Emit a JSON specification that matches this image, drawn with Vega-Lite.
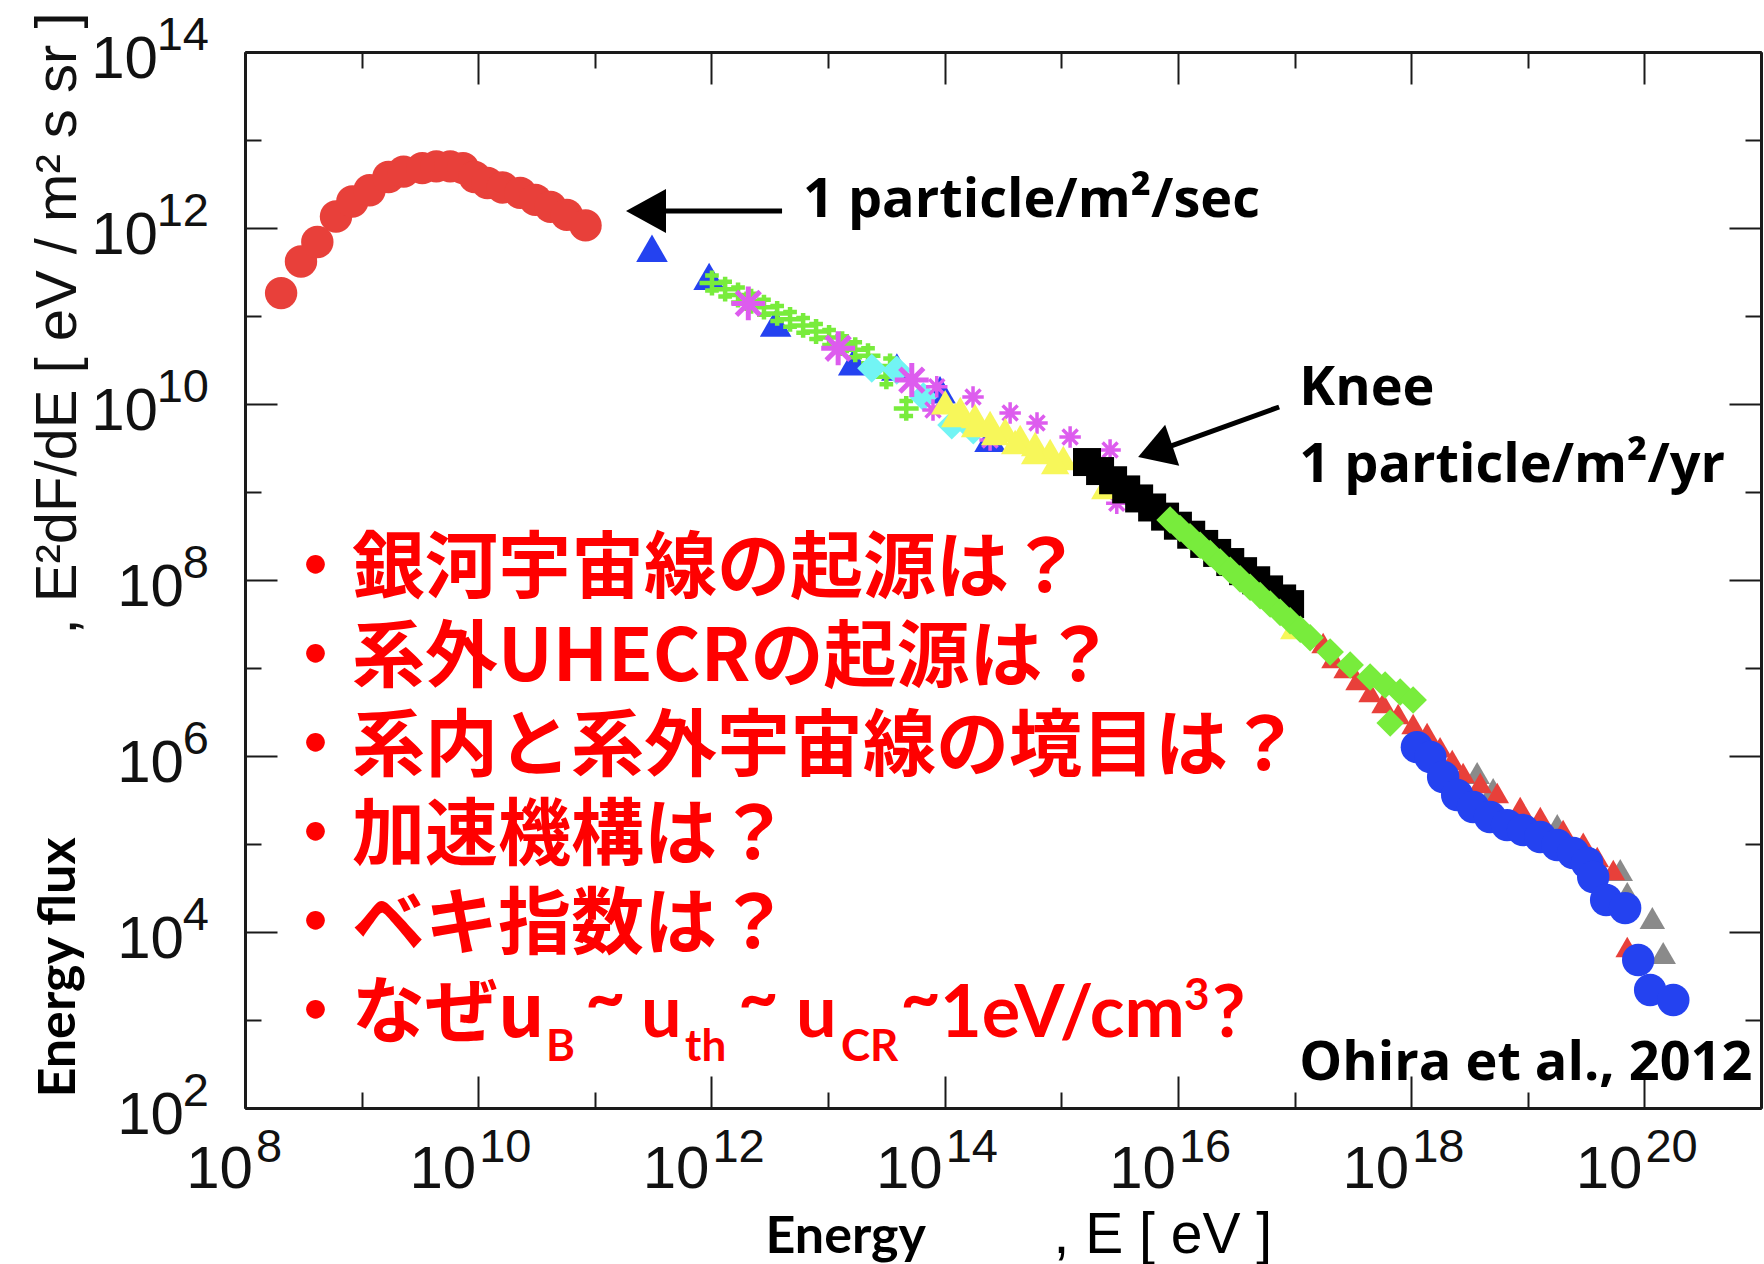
{
"$schema": "https://vega.github.io/schema/vega-lite/v6.json",
"width": 1516,
"height": 1056,
"autosize": {"type": "none"},
"padding": {"left": 245, "top": 52, "right": 3, "bottom": 156},
"background": "white",
"config": {"view": {"stroke": null}, "font": "Liberation Sans"},
"datasets": {
"redc": [{"E":2.04e8,"F":1.82e11},{"E":3.02e8,"F":4.17e11},{"E":4.17e8,"F":6.92e11},{"E":6.03e8,"F":1.35e12},{"E":8.32e8,"F":2.0e12},{"E":1.17e9,"F":2.69e12},{"E":1.7e9,"F":3.8e12},{"E":2.29e9,"F":4.37e12},{"E":3.31e9,"F":4.79e12},{"E":4.37e9,"F":5.01e12},{"E":5.75e9,"F":5.01e12},{"E":7.41e9,"F":4.79e12},{"E":9.33e9,"F":3.8e12},{"E":1.2e10,"F":3.24e12},{"E":1.62e10,"F":2.88e12},{"E":2.29e10,"F":2.51e12},{"E":3.09e10,"F":2.09e12},{"E":4.17e10,"F":1.74e12},{"E":5.75e10,"F":1.41e12},{"E":8.32e10,"F":1.07e12}],
"bluet": [{"E":3.09e11,"F":5.89e11},{"E":9.55e11,"F":2.82e11},{"E":3.55e12,"F":8.32e10},{"E":1.66e13,"F":3.02e10},{"E":3.89e13,"F":2.63e10},{"E":9.12e13,"F":1.45e10},{"E":2.45e14,"F":4.07e9}],
"greenx": [{"E":1.01e12,"F":2.37e11},{"E":1.31e12,"F":2.02e11},{"E":1.69e12,"F":1.73e11},{"E":2.19e12,"F":1.47e11},{"E":2.82e12,"F":1.26e11},{"E":3.66e12,"F":1.07e11},{"E":4.72e12,"F":9.16e10},{"E":6.11e12,"F":7.82e10},{"E":7.89e12,"F":6.67e10},{"E":1.02e13,"F":5.7e10},{"E":1.32e13,"F":4.85e10},{"E":1.71e13,"F":4.14e10},{"E":2.2e13,"F":3.54e10},{"E":3.16e13,"F":2.04e10},{"E":3.4e13,"F":2.7e10},{"E":4.68e13,"F":8.91e9}],
"magbig": [{"E":2.07e12,"F":1.39e11},{"E":1.22e13,"F":4.3e10},{"E":5.22e13,"F":1.87e10}],
"magsm": [{"E":8.55e13,"F":1.57e10},{"E":1.75e14,"F":1.2e10},{"E":3.64e14,"F":7.91e9},{"E":6.19e14,"F":6.08e9},{"E":1.19e15,"F":4.22e9},{"E":7.94e13,"F":8.55e9},{"E":2.45e14,"F":3.9e9},{"E":2.99e15,"F":7.45e8},{"E":2.62e15,"F":3.0e9}],
"cyan": [{"E":2.37e13,"F":2.55e10},{"E":3.88e13,"F":2.43e10},{"E":6.56e13,"F":1.21e10},{"E":1.15e14,"F":5.77e9},{"E":1.76e14,"F":5.07e9}],
"yellow": [{"E":1.01e14,"F":1.05e10},{"E":1.36e14,"F":8.77e9},{"E":1.82e14,"F":7.31e9},{"E":2.45e14,"F":6.08e9},{"E":3.3e14,"F":5.07e9},{"E":4.44e14,"F":4.22e9},{"E":5.96e14,"F":3.51e9},{"E":8.02e14,"F":2.92e9},{"E":1.04e15,"F":2.43e9},{"E":2.38e15,"F":1.14e9},{"E":9.93e16,"F":2.92e7},{"E":1.23e14,"F":7.5e9},{"E":1.82e14,"F":5.77e9},{"E":2.7e14,"F":4.68e9},{"E":4.02e14,"F":3.7e9},{"E":5.96e14,"F":2.85e9},{"E":8.85e14,"F":2.19e9}],
"black": [{"E":1.66e15,"F":2.19e9},{"E":2.15e15,"F":1.73e9},{"E":2.78e15,"F":1.36e9},{"E":3.6e15,"F":1.07e9},{"E":4.65e15,"F":8.45e8},{"E":6.01e15,"F":6.67e8},{"E":7.76e15,"F":5.25e8},{"E":1.0e16,"F":4.14e8},{"E":1.3e16,"F":3.27e8},{"E":1.68e16,"F":2.57e8},{"E":2.17e16,"F":2.03e8},{"E":2.81e16,"F":1.6e8},{"E":3.62e16,"F":1.26e8},{"E":4.69e16,"F":9.93e7},{"E":6.05e16,"F":7.82e7},{"E":7.83e16,"F":6.17e7},{"E":9.16e16,"F":5.32e7}],
"gray": [{"E":3.68e18,"F":6.41e5},{"E":5.05e18,"F":4.22e5},{"E":1.79e19,"F":1.64e5},{"E":6.21e19,"F":5.07e4},{"E":7.13e19,"F":2.77e4},{"E":1.17e20,"F":1.44e4},{"E":1.45e20,"F":5.77e3}],
"redt": [{"E":1.76e17,"F":1.92e7},{"E":2.14e17,"F":1.3e7},{"E":2.72e17,"F":1.0e7},{"E":3.44e17,"F":7.31e6},{"E":4.45e17,"F":5.33e6},{"E":5.75e17,"F":4.0e6},{"E":7.74e17,"F":3.0e6},{"E":1.04e18,"F":2.31e6},{"E":1.37e18,"F":1.82e6},{"E":1.77e18,"F":1.26e6},{"E":2.25e18,"F":9.02e5},{"E":2.79e18,"F":6.41e5},{"E":3.91e18,"F":4.93e5},{"E":5.47e18,"F":3.8e5},{"E":8.61e18,"F":2.63e5},{"E":1.28e19,"F":2.03e5},{"E":2.01e19,"F":1.44e5},{"E":2.99e19,"F":1.03e5},{"E":3.94e19,"F":7.11e4},{"E":5.41e19,"F":5.07e4},{"E":7.13e19,"F":6.76e3}],
"greend": [{"E":8.57e15,"F":4.81e8},{"E":1.04e16,"F":3.85e8},{"E":1.27e16,"F":3.1e8},{"E":1.55e16,"F":2.48e8},{"E":1.89e16,"F":2.0e8},{"E":2.3e16,"F":1.6e8},{"E":2.81e16,"F":1.29e8},{"E":3.41e16,"F":1.03e8},{"E":4.16e16,"F":8.28e7},{"E":5.07e16,"F":6.65e7},{"E":6.18e16,"F":5.33e7},{"E":7.52e16,"F":4.29e7},{"E":9.16e16,"F":3.44e7},{"E":1.12e17,"F":2.76e7},{"E":1.36e17,"F":2.21e7},{"E":2.02e17,"F":1.52e7},{"E":3.0e17,"F":1.08e7},{"E":4.45e17,"F":7.91e6},{"E":5.98e17,"F":6.41e6},{"E":8.05e17,"F":5.33e6},{"E":1.04e18,"F":4.33e6},{"E":6.61e17,"F":2.37e6}],
"bluec": [{"E":1.12e18,"F":1.26e6},{"E":1.46e18,"F":9.75e5},{"E":1.88e18,"F":5.77e5},{"E":2.48e18,"F":3.61e5},{"E":3.4e18,"F":2.63e5},{"E":4.75e18,"F":2.03e5},{"E":6.65e18,"F":1.64e5},{"E":9.12e18,"F":1.44e5},{"E":1.28e19,"F":1.2e5},{"E":1.79e19,"F":9.75e4},{"E":2.45e19,"F":7.91e4},{"E":3.23e19,"F":6.08e4},{"E":3.64e19,"F":4.22e4},{"E":4.7e19,"F":2.31e4},{"E":6.84e19,"F":1.87e4},{"E":8.85e19,"F":4.81e3},{"E":1.12e20,"F":2.19e3},{"E":1.77e20,"F":1.69e3}],
"arrows": [{"E":4.03e12,"F":1.56e12,"E2":2.97e11,"F2":1.56e12},{"E":7.38e16,"F":9.25e9,"E2":7.76e15,"F2":3.16e9}],
"tip1": [{"E":1.85e11,"F":1.56e12}],
"tip2": [{"E":4.56e15,"F":2.5e9}],
"notes": [{"E":6.1e12,"F":1.33e12,"t":"1 particle/m²/sec"},{"E":1.1e17,"F":9.75e9,"t":"Knee"},{"E":1.1e17,"F":1.315e9,"t":"1 particle/m²/yr"},{"E":1.1e17,"F":208,"t":"Ohira et al., 2012"}],
"qmain": [{"E":1.96e8,"F":7.31e7,"t":"・銀河宇宙線の起源は？"},{"E":1.96e8,"F":7.11e6,"t":"・系外UHECRの起源は？"},{"E":1.96e8,"F":6.93e5,"t":"・系内と系外宇宙線の境目は？"},{"E":1.96e8,"F":6.76e4,"t":"・加速機構は？"},{"E":1.96e8,"F":6.58e3,"t":"・ベキ指数は？"},{"E":1.96e8,"F":641,"t":"・なぜu"}],
"qlatin": [{"E":2.49e11,"F":641,"t":"u"},{"E":5.32e12,"F":641,"t":"u"},{"E":9.13e13,"F":641,"t":"1eV/cm"},{"E":1.97e16,"F":641,"t":"?"}],
"qtilde": [{"E":8.24e10,"F":949,"t":"~"},{"E":1.69e12,"F":949,"t":"~"},{"E":4.15e13,"F":949,"t":"~"}],
"qsmall": [{"E":3.82e10,"F":342,"t":"B"},{"E":5.94e11,"F":342,"t":"th"},{"E":1.29e13,"F":342,"t":"CR"},{"E":1.13e16,"F":1300,"t":"3"}],
"xlab": [{"E":1e8,"F":100,"e":"8"},{"E":1e10,"F":100,"e":"10"},{"E":1e12,"F":100,"e":"12"},{"E":1e14,"F":100,"e":"14"},{"E":1e16,"F":100,"e":"16"},{"E":1e18,"F":100,"e":"18"},{"E":1e20,"F":100,"e":"20"}],
"ylab": [{"E":1e8,"F":100,"e":"2"},{"E":1e8,"F":1e4,"e":"4"},{"E":1e8,"F":1e6,"e":"6"},{"E":1e8,"F":1e8,"e":"8"},{"E":1e8,"F":1e10,"e":"10"},{"E":1e8,"F":1e12,"e":"12"},{"E":1e8,"F":1e14,"e":"14"}]
},
"encoding": {
"x": {"field": "E", "type": "quantitative", "scale": {"type": "log", "domain": [1e8, 1e21], "nice": false}, "axis": null},
"y": {"field": "F", "type": "quantitative", "scale": {"type": "log", "domain": [100, 1e14], "nice": false}, "axis": null}
},
"layer": [
{"data": {"name": "redc"}, "mark": {"type": "point", "shape": "circle", "filled": true, "size": 1050, "color": "#E8403A", "opacity": 1}},
{"data": {"name": "bluet"}, "mark": {"type": "point", "shape": "triangle-up", "filled": true, "size": 1000, "color": "#2442F0", "opacity": 1},
 "encoding": {
  "x": {"field": "E", "type": "quantitative", "scale": {"type": "log", "domain": [1e8, 1e21], "nice": false},
   "axis": {"orient": "bottom", "values": [1e9,1e11,1e13,1e15,1e17,1e19], "labels": false, "grid": false, "tickSize": -16, "tickWidth": 2, "tickColor": "#1a1a1a", "domainColor": "#1a1a1a", "domainWidth": 3, "title": "Energy", "titleFont": "Lato", "titleFontSize": 52, "titleFontWeight": "bold", "titleColor": "#000000", "titleAlign": "left", "titleBaseline": "alphabetic", "titleX": 520, "titleY": 144, "titleAngle": 0}},
  "y": {"field": "F", "type": "quantitative", "scale": {"type": "log", "domain": [100, 1e14], "nice": false},
   "axis": {"orient": "left", "values": [1e3,1e5,1e7,1e9,1e11,1e13], "labels": false, "grid": false, "tickSize": -16, "tickWidth": 2, "tickColor": "#1a1a1a", "domainColor": "#1a1a1a", "domainWidth": 3, "title": "Energy flux", "titleFont": "Lato", "titleFontSize": 52, "titleFontWeight": "bold", "titleColor": "#000000", "titleAngle": -90, "titleAlign": "center", "titleBaseline": "alphabetic", "titleX": -171, "titleY": 915}}
 }},
{"data": {"name": "greenx"}, "mark": {"type": "point", "shape": "M-1,0L1,0M0,-1L0,1M-0.55,-0.6L0.55,-0.6M-0.55,0.6L0.55,0.6", "filled": false, "size": 620, "color": "#78EC3C", "strokeWidth": 4.5, "opacity": 1},
 "encoding": {
  "x": {"field": "E", "type": "quantitative", "scale": {"type": "log", "domain": [1e8, 1e21], "nice": false},
   "axis": {"orient": "bottom", "values": [1e8,1e10,1e12,1e14,1e16,1e18,1e20], "labels": false, "grid": false, "tickSize": -32, "tickWidth": 2, "tickColor": "#1a1a1a", "domainColor": "#1a1a1a", "domainWidth": 3, "title": ", E [ eV ]", "titleFont": "Liberation Sans", "titleFontSize": 57, "titleFontWeight": "normal", "titleColor": "#000000", "titleAlign": "left", "titleBaseline": "alphabetic", "titleX": 808, "titleY": 144, "titleAngle": 0}},
  "y": {"field": "F", "type": "quantitative", "scale": {"type": "log", "domain": [100, 1e14], "nice": false},
   "axis": {"orient": "left", "values": [100,1e4,1e6,1e8,1e10,1e12,1e14], "labels": false, "grid": false, "tickSize": -32, "tickWidth": 2, "tickColor": "#1a1a1a", "domainColor": "#1a1a1a", "domainWidth": 3, "title": ", E²dF/dE [ eV / m² s sr ]", "titleFont": "Liberation Sans", "titleFontSize": 58, "titleFontWeight": "normal", "titleColor": "#111111", "titleAngle": -90, "titleAlign": "center", "titleBaseline": "alphabetic", "titleX": -170, "titleY": 271}}
 }},
{"data": {"name": "cyan"}, "mark": {"type": "point", "shape": "diamond", "filled": true, "size": 850, "color": "#72F4F4", "opacity": 1},
 "encoding": {
  "x": {"field": "E", "type": "quantitative", "scale": {"type": "log", "domain": [1e8, 1e21], "nice": false},
   "axis": {"orient": "top", "values": [1e8,1e10,1e12,1e14,1e16,1e18,1e20], "labels": false, "grid": false, "tickSize": -32, "tickWidth": 2, "tickColor": "#1a1a1a", "domainColor": "#1a1a1a", "domainWidth": 3, "title": null}},
  "y": {"field": "F", "type": "quantitative", "scale": {"type": "log", "domain": [100, 1e14], "nice": false},
   "axis": {"orient": "right", "values": [100,1e4,1e6,1e8,1e10,1e12,1e14], "labels": false, "grid": false, "tickSize": -32, "tickWidth": 2, "tickColor": "#1a1a1a", "domainColor": "#1a1a1a", "domainWidth": 3, "title": null}}
 }},
{"data": {"name": "magbig"}, "mark": {"type": "point", "shape": "M-1,0L1,0M0,-1L0,1M-0.7,-0.7L0.7,0.7M-0.7,0.7L0.7,-0.7", "filled": false, "size": 1150, "color": "#DD5CEE", "strokeWidth": 5, "opacity": 1},
 "encoding": {
  "x": {"field": "E", "type": "quantitative", "scale": {"type": "log", "domain": [1e8, 1e21], "nice": false},
   "axis": {"orient": "top", "values": [1e9,1e11,1e13,1e15,1e17,1e19], "labels": false, "grid": false, "tickSize": -16, "tickWidth": 2, "tickColor": "#1a1a1a", "domainColor": "#1a1a1a", "domainWidth": 3, "title": null}},
  "y": {"field": "F", "type": "quantitative", "scale": {"type": "log", "domain": [100, 1e14], "nice": false},
   "axis": {"orient": "right", "values": [1e3,1e5,1e7,1e9,1e11,1e13], "labels": false, "grid": false, "tickSize": -16, "tickWidth": 2, "tickColor": "#1a1a1a", "domainColor": "#1a1a1a", "domainWidth": 3, "title": null}}
 }},
{"data": {"name": "magsm"}, "mark": {"type": "point", "shape": "M-1,0L1,0M0,-1L0,1M-0.7,-0.7L0.7,0.7M-0.7,0.7L0.7,-0.7", "filled": false, "size": 460, "color": "#DD5CEE", "strokeWidth": 3.5, "opacity": 1}},
{"data": {"name": "yellow"}, "mark": {"type": "point", "shape": "triangle-up", "filled": true, "size": 800, "color": "#F7F75A", "opacity": 1}},
{"data": {"name": "black"}, "mark": {"type": "point", "shape": "square", "filled": true, "size": 784, "color": "#000000", "opacity": 1}},
{"data": {"name": "gray"}, "mark": {"type": "point", "shape": "triangle-up", "filled": true, "size": 650, "color": "#8A8A8A", "opacity": 1}},
{"data": {"name": "redt"}, "mark": {"type": "point", "shape": "triangle-up", "filled": true, "size": 560, "color": "#E8403A", "opacity": 1}},
{"data": {"name": "greend"}, "mark": {"type": "point", "shape": "diamond", "filled": true, "size": 760, "color": "#78EC3C", "opacity": 1}},
{"data": {"name": "bluec"}, "mark": {"type": "point", "shape": "circle", "filled": true, "size": 1050, "color": "#2442F0", "opacity": 1}},
{"data": {"name": "arrows"}, "mark": {"type": "rule", "color": "#000000", "strokeWidth": 5},
 "encoding": {"x2": {"field": "E2"}, "y2": {"field": "F2"}}},
{"data": {"name": "tip1"}, "mark": {"type": "point", "shape": "M0,0L1,-0.55L1,0.55Z", "filled": true, "size": 6400, "color": "#000000", "opacity": 1, "angle": 0}},
{"data": {"name": "tip2"}, "mark": {"type": "point", "shape": "M0,0L1,-0.6L1,0.6Z", "filled": true, "size": 5184, "color": "#000000", "opacity": 1, "angle": -19}},
{"data": {"name": "notes"}, "mark": {"type": "text", "align": "left", "baseline": "alphabetic", "font": "Open Sans", "fontWeight": "bold", "fontSize": 54, "color": "#000000"},
 "encoding": {"text": {"field": "t"}}},
{"data": {"name": "qmain"}, "mark": {"type": "text", "align": "left", "baseline": "alphabetic", "font": "Noto Sans CJK JP", "fontWeight": "bold", "fontSize": 73, "color": "#FF0000"},
 "encoding": {"text": {"field": "t"}}},
{"data": {"name": "qlatin"}, "mark": {"type": "text", "align": "left", "baseline": "alphabetic", "font": "Lato", "fontWeight": "bold", "fontSize": 72, "color": "#FF0000"},
 "encoding": {"text": {"field": "t"}}},
{"data": {"name": "qtilde"}, "mark": {"type": "text", "align": "left", "baseline": "alphabetic", "font": "Lato", "fontWeight": "bold", "fontSize": 70, "color": "#FF0000"},
 "encoding": {"text": {"field": "t"}}},
{"data": {"name": "qsmall"}, "mark": {"type": "text", "align": "left", "baseline": "alphabetic", "font": "Lato", "fontWeight": "bold", "fontSize": 44, "color": "#FF0000"},
 "encoding": {"text": {"field": "t"}}},
{"data": {"name": "xlab"}, "transform": [{"filter": "length(datum.e) == 2"}],
 "mark": {"type": "text", "align": "right", "baseline": "alphabetic", "dx": -2, "dy": 80, "font": "Liberation Sans Narrow, Liberation Sans, sans-serif", "fontSize": 60, "color": "#111111"},
 "encoding": {"text": {"value": "10"}}},
{"data": {"name": "xlab"}, "transform": [{"filter": "length(datum.e) == 1"}],
 "mark": {"type": "text", "align": "right", "baseline": "alphabetic", "dx": 8, "dy": 80, "font": "Liberation Sans Narrow, Liberation Sans, sans-serif", "fontSize": 60, "color": "#111111"},
 "encoding": {"text": {"value": "10"}}},
{"data": {"name": "xlab"}, "transform": [{"filter": "length(datum.e) == 2"}],
 "mark": {"type": "text", "align": "left", "baseline": "alphabetic", "dx": 1, "dy": 54, "font": "Liberation Sans Narrow, Liberation Sans, sans-serif", "fontSize": 47, "color": "#111111"},
 "encoding": {"text": {"field": "e"}}},
{"data": {"name": "xlab"}, "transform": [{"filter": "length(datum.e) == 1"}],
 "mark": {"type": "text", "align": "left", "baseline": "alphabetic", "dx": 11, "dy": 54, "font": "Liberation Sans Narrow, Liberation Sans, sans-serif", "fontSize": 47, "color": "#111111"},
 "encoding": {"text": {"field": "e"}}},
{"data": {"name": "ylab"}, "transform": [{"filter": "length(datum.e) == 2"}],
 "mark": {"type": "text", "align": "right", "baseline": "alphabetic", "dx": -87, "dy": 26, "font": "Liberation Sans Narrow, Liberation Sans, sans-serif", "fontSize": 60, "color": "#111111"},
 "encoding": {"text": {"value": "10"}}},
{"data": {"name": "ylab"}, "transform": [{"filter": "length(datum.e) == 1"}],
 "mark": {"type": "text", "align": "right", "baseline": "alphabetic", "dx": -61, "dy": 26, "font": "Liberation Sans Narrow, Liberation Sans, sans-serif", "fontSize": 60, "color": "#111111"},
 "encoding": {"text": {"value": "10"}}},
{"data": {"name": "ylab"},
 "mark": {"type": "text", "align": "right", "baseline": "alphabetic", "dx": -36, "dy": -2, "font": "Liberation Sans Narrow, Liberation Sans, sans-serif", "fontSize": 47, "color": "#111111"},
 "encoding": {"text": {"field": "e"}}}
],
"resolve": {"axis": {"x": "independent", "y": "independent"}}
}
